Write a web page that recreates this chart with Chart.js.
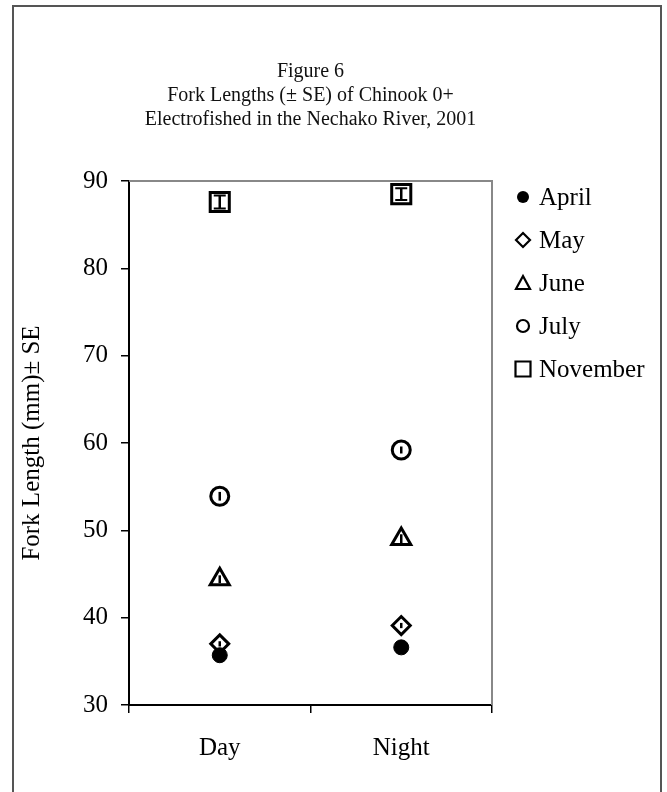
<!DOCTYPE html>
<html>
<head>
<meta charset="utf-8">
<script src="https://cdn.jsdelivr.net/npm/chart.js@4.4.1/dist/chart.umd.min.js"></script>
<style>
  body { margin: 0; background: #fff; }
  #wrap { position: relative; width: 667px; height: 792px; overflow: hidden; }
  #frame { position: absolute; left: 12px; top: 5px; width: 650px; height: 820px;
           box-sizing: border-box; border: 2px solid #555; pointer-events: none; }
  canvas { position: absolute; left: 0; top: 0; }
</style>
</head>
<body>
<div id="wrap">
  <canvas id="chart" width="667" height="792"></canvas>
  <div id="frame"></div>
</div>
<script>
// data
const categories = ["Day", "Night"];
const seriesNames = ["April", "May", "June", "July", "November"];
const aprilMean = [35.7, 36.6];
const aprilSE = [0.3, 0.3];
const mayMean = [37.0, 39.1];
const maySE = [0.3, 0.3];
const juneMean = [44.4, 49.0];
const juneSE = [0.45, 0.55];
const julyMean = [53.9, 59.2];
const julySE = [0.5, 0.4];
const novemberMean = [87.6, 88.5];
const novemberSE = [0.75, 0.67];
const yMin = 30, yMax = 90, yStep = 10;

const titleLines = ["Figure 6", "Fork Lengths (\u00b1 SE) of Chinook 0+", "Electrofished in the Nechako River, 2001"];
const yTitle = "Fork Length (mm)\u00b1 SE";

const serif = "'Liberation Serif', 'Times New Roman', serif";

const means = [aprilMean, mayMean, juneMean, julyMean, novemberMean];
const errors = [aprilSE, maySE, juneSE, julySE, novemberSE];
const styles = [
  { pointStyle: "circle", radius: 7.5, fill: "#000", border: 1, cap: 0 },
  { pointStyle: "rectRot", radius: 9, fill: "#fff", border: 3, cap: 0 },
  { pointStyle: "triangle", radius: 11, fill: "#fff", border: 3, cap: 0 },
  { pointStyle: "circle", radius: 9, fill: "#fff", border: 3, cap: 0 },
  { pointStyle: "rect", radius: 13.5, fill: "#fff", border: 3, cap: 12 },
];

const datasets = seriesNames.map((name, i) => ({
  label: name,
  data: means[i],
  showLine: false,
  pointStyle: styles[i].pointStyle,
  pointRadius: styles[i].radius,
  pointBackgroundColor: styles[i].fill,
  pointBorderColor: "#000",
  pointBorderWidth: styles[i].border,
  borderColor: "#000",
  backgroundColor: styles[i].fill,
}));

// gray top/right frame of plot area
const plotFrame = {
  id: "plotFrame",
  beforeDatasetsDraw(chart) {
    const { ctx, chartArea: a } = chart;
    ctx.save();
    ctx.strokeStyle = "#888";
    ctx.lineWidth = 2;
    ctx.beginPath();
    ctx.moveTo(a.left, a.top);
    ctx.lineTo(a.right, a.top);
    ctx.lineTo(a.right, a.bottom);
    ctx.stroke();
    ctx.restore();
  },
};

// error bars on top of the markers
const errorBars = {
  id: "errorBars",
  afterDatasetsDraw(chart) {
    const { ctx } = chart;
    const y = chart.scales.y;
    ctx.save();
    ctx.strokeStyle = "#000";
    datasets.forEach((ds, d) => {
      const meta = chart.getDatasetMeta(d);
      meta.data.forEach((pt, i) => {
        const hi = y.getPixelForValue(means[d][i] + errors[d][i]);
        const lo = y.getPixelForValue(means[d][i] - errors[d][i]);
        ctx.lineWidth = 2.5;
        ctx.beginPath();
        ctx.moveTo(pt.x, hi);
        ctx.lineTo(pt.x, lo);
        ctx.stroke();
        const cw = styles[d].cap;
        if (cw > 0) {
          ctx.lineWidth = 2;
          ctx.beginPath();
          ctx.moveTo(pt.x - cw / 2, hi);
          ctx.lineTo(pt.x + cw / 2, hi);
          ctx.moveTo(pt.x - cw / 2, lo);
          ctx.lineTo(pt.x + cw / 2, lo);
          ctx.stroke();
        }
      });
    });
    ctx.restore();
  },
};

function drawSymbol(ctx, style, x, y) {
  ctx.beginPath();
  if (style === "circle") {
    ctx.arc(x, y, 6, 0, Math.PI * 2);
  } else if (style === "rectRot") {
    ctx.moveTo(x - 7, y); ctx.lineTo(x, y - 7); ctx.lineTo(x + 7, y); ctx.lineTo(x, y + 7); ctx.closePath();
  } else if (style === "triangle") {
    ctx.moveTo(x, y - 7); ctx.lineTo(x + 7, y + 6); ctx.lineTo(x - 7, y + 6); ctx.closePath();
  } else {
    ctx.rect(x - 7.5, y - 7.5, 15, 15);
  }
}

// legend to the right of the plot
const sideLegend = {
  id: "sideLegend",
  afterDraw(chart) {
    const { ctx, chartArea: a } = chart;
    ctx.save();
    ctx.font = "25px " + serif;
    ctx.textBaseline = "middle";
    ctx.textAlign = "left";
    chart.data.datasets.forEach((ds, i) => {
      const y = a.top + 16 + 43 * i;
      const x = a.right + 31;
      ctx.lineWidth = 2.2;
      ctx.strokeStyle = "#000";
      drawSymbol(ctx, styles[i].pointStyle, x, y);
      if (i === 0) { ctx.fillStyle = "#000"; ctx.fill(); }
      else ctx.stroke();
      ctx.fillStyle = "#000";
      ctx.fillText(ds.label, a.right + 47, y + 1);
    });
    ctx.restore();
  },
};

new Chart(document.getElementById("chart"), {
  type: "line",
  data: { labels: categories, datasets },
  plugins: [plotFrame, errorBars, sideLegend],
  options: {
    responsive: false,
    animation: false,
    events: [],
    layout: { padding: { left: 0, right: 175, top: 0, bottom: 0 } },
    plugins: {
      legend: { display: false },
      tooltip: { enabled: false },
      title: {
        display: true,
        fullSize: false,
        text: titleLines,
        color: "#111",
        font: { family: serif, size: 20, weight: "normal", lineHeight: 1.2 },
        padding: { top: 60, bottom: 49 },
      },
    },
    scales: {
      x: {
        type: "category",
        offset: true,
        grid: { drawOnChartArea: false, drawTicks: true, tickLength: 8, color: "#000", lineWidth: 1.5, offset: true },
        border: { color: "#000", width: 2 },
        ticks: { color: "#000", font: { family: serif, size: 25 }, padding: 20 },
        afterFit(s) { s.height = 87; },
      },
      y: {
        min: yMin,
        max: yMax,
        grid: { drawOnChartArea: false, drawTicks: true, tickLength: 8, color: "#000", lineWidth: 1.5 },
        border: { color: "#000", width: 2 },
        ticks: { stepSize: yStep, color: "#000", font: { family: serif, size: 25 }, padding: 13 },
        title: {
          display: true,
          text: yTitle,
          color: "#000",
          font: { family: serif, size: 25 },
          padding: { top: 17, bottom: 0 },
        },
        afterFit(s) { s.width = 129; },
      },
    },
  },
});
</script>
</body>
</html>
